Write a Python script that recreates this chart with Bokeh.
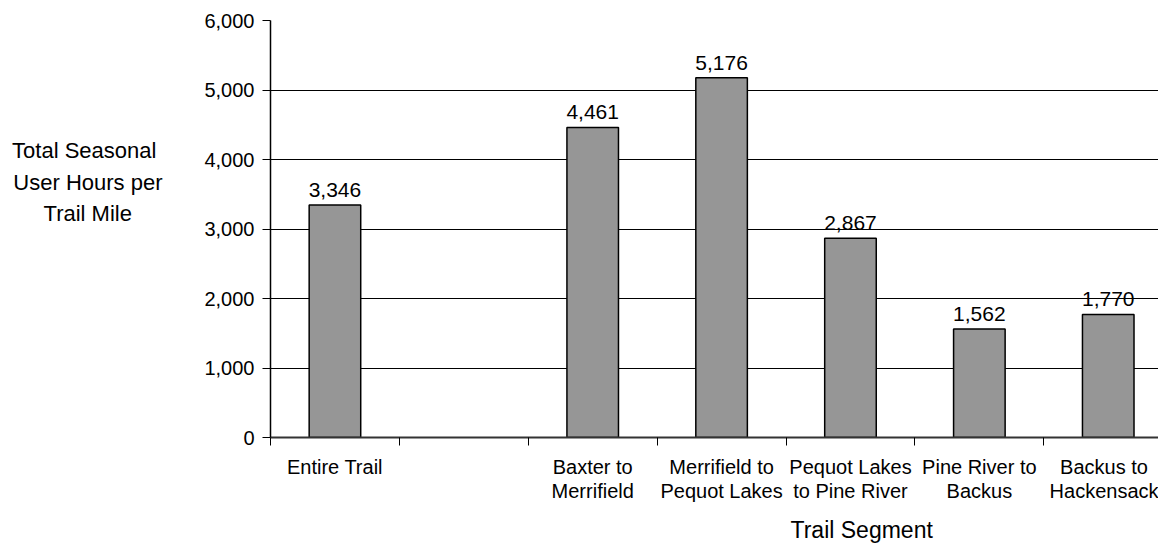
from bokeh.plotting import figure
from bokeh.models import (ColumnDataSource, Range1d, FixedTicker, NumeralTickFormatter,
                          LabelSet, LinearAxis, Title)
from bokeh.core.properties import value
from bokeh.embed import file_html
from bokeh.resources import INLINE

categories = ["Entire Trail", "", "Baxter to\nMerrifield", "Merrifield to\nPequot Lakes",
              "Pequot Lakes\nto Pine River", "Pine River to\nBackus", "Backus to\nHackensack"]
values = [3346, None, 4461, 5176, 2867, 1562, 1770]
y_ticks = [0, 1000, 2000, 3000, 4000, 5000, 6000]
y_title_lines = ["Total Seasonal", "User Hours per", "Trail Mile"]
x_title = "Trail Segment"

xs = [i + 0.5 for i, v in enumerate(values) if v is not None]
vs = [v for v in values if v is not None]
src = ColumnDataSource(dict(x=xs, top=vs, lab=[f"{v:,}" for v in vs]))

FONT = "Liberation Sans"
NB = "\u00a0"

p = figure(width=1158, height=552, output_backend="svg", toolbar_location=None,
           x_range=Range1d(0, 6.89), y_range=Range1d(0, 6000),
           min_border_left=270, min_border_right=0, min_border_top=20, min_border_bottom=115)
p.outline_line_color = None
p.background_fill_color = "white"
p.border_fill_color = "white"

p.vbar(x="x", top="top", bottom=0, width=0.4, source=src,
       fill_color="#969696", line_color="black", line_width=1.5)

labels = LabelSet(x="x", y="top", text="lab", source=src, text_align="center",
                  text_baseline="bottom", y_offset=8, text_font=value(FONT),
                  text_font_size="21px", text_color="black")
p.add_layout(labels)

# y axis
p.yaxis.ticker = FixedTicker(ticks=y_ticks)
p.yaxis.formatter = NumeralTickFormatter(format="0,0")
p.yaxis.major_label_text_font = FONT
p.yaxis.major_label_text_font_size = "20px"
p.yaxis.major_label_text_color = "black"
p.yaxis.major_tick_out = 8
p.yaxis.major_tick_in = 0
p.yaxis.minor_tick_out = 0
p.yaxis.minor_tick_in = 0
p.yaxis.axis_line_color = "black"
p.yaxis.axis_line_width = 1.5
p.yaxis.major_tick_line_color = "black"
p.yaxis.major_label_standoff = 8

# x axis: labels at category centers, tick marks at boundaries
centers = [i + 0.5 for i in range(len(categories))]
bounds = list(range(len(categories) + 1))
p.xaxis.ticker = FixedTicker(ticks=centers, minor_ticks=bounds)
p.xaxis.major_label_overrides = {c: lab for c, lab in zip(centers, categories)}
p.xaxis.major_tick_out = 0
p.xaxis.major_tick_in = 0
p.xaxis.minor_tick_out = 8
p.xaxis.minor_tick_in = 0
p.xaxis.minor_tick_line_color = "black"
p.xaxis.axis_line_color = "#333333"
p.xaxis.axis_line_width = 2
p.xaxis.major_label_text_font = FONT
p.xaxis.major_label_text_font_size = "20px"
p.xaxis.major_label_text_color = "black"
p.xaxis.major_label_text_line_height = 1.1
p.xaxis.major_label_standoff = 10

p.xgrid.grid_line_color = None
p.ygrid.ticker = FixedTicker(ticks=y_ticks)
p.ygrid.grid_line_color = "black"
p.ygrid.grid_line_width = 1

# y-axis title: horizontal, lines centred (right-padded), raised by blank lines
pads = [1, 0, 5]
ylab = "\n".join(line + NB * n for line, n in zip(y_title_lines, pads)) + ("\n" + NB) * 3
yt = LinearAxis(ticker=FixedTicker(ticks=[]))
yt.axis_line_color = None
yt.major_tick_line_color = None
yt.minor_tick_line_color = None
yt.major_label_text_font_size = "0px"
yt.axis_label = ylab
yt.axis_label_orientation = "horizontal"
yt.axis_label_text_font = FONT
yt.axis_label_text_font_size = "22px"
yt.axis_label_text_font_style = "normal"
yt.axis_label_text_color = "black"
yt.axis_label_text_line_height = 1.25
yt.axis_label_standoff = 39
p.add_layout(yt, "left")

xt = Title(text=x_title, align="left", offset=520, standoff=20,
           text_font=FONT, text_font_size="23px", text_font_style="normal",
           text_color="black", text_line_height=1.0)
p.add_layout(xt, "below")

open("out.html", "w").write(file_html(p, INLINE))
